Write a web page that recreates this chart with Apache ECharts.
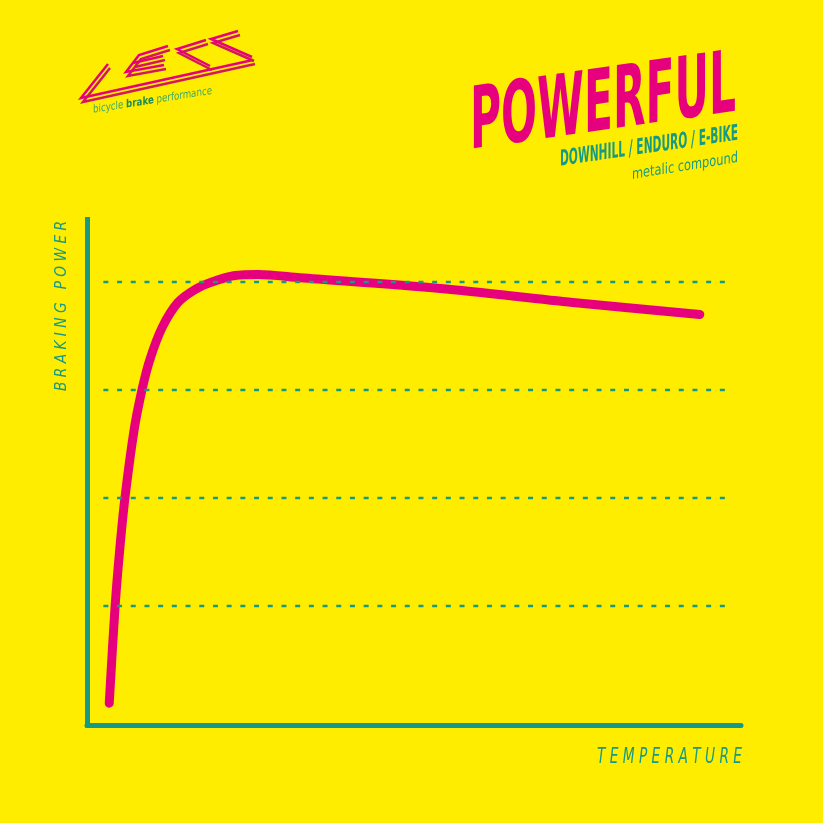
<!DOCTYPE html>
<html><head><meta charset="utf-8">
<script src="https://cdn.jsdelivr.net/npm/echarts@6/dist/echarts.min.js"></script>
<style>html,body{margin:0;padding:0;background:#ffed00;}#c{width:823px;height:823px;}</style>
</head><body><div id="c"></div>
<script>
// ---- data ----
const temperature  = [3.4, 4.3, 5.0, 5.8, 7.2, 8.4, 9.6, 11.5, 13.9, 16.5, 19.1, 22.6, 26.2, 32.6, 54.0, 74.3, 93.7];
const brakingPower = [0.10, 1.00, 1.52, 2.00, 2.63, 3.00, 3.28, 3.58, 3.81, 3.93, 4.00, 4.06, 4.07, 4.04, 3.94, 3.81, 3.70];
const gridLevels = [1, 2, 3, 4];
const xAxisName = 'TEMPERATURE';
const yAxisName = 'BRAKING POWER';
const titleText = 'POWERFUL';
const subtitleText = 'DOWNHILL / ENDURO / E-BIKE';
const compoundText = 'metalic compound';
const logoWords = ['bicycle', 'brake', 'performance'];

// ---- style ----
const YELLOW = '#ffed00', PINK = '#e6007e', PINK2 = '#d3175f', TEAL = '#169a86', GREEN = '#1d8a52';
const NARROW = '"Liberation Sans Narrow", "DejaVu Sans Condensed", "Liberation Sans", sans-serif';

const mctx = document.createElement('canvas').getContext('2d');
function measure(text, font) { mctx.font = font; return mctx.measureText(text).width; }
const spaced = s => s.split('').join(' ');

function slanted(text, font, left, yMid, width, slope, fill) {
  const w = measure(text, font);
  return {
    type: 'text', x: left, y: yMid, scaleX: width / w, skewY: -Math.atan(slope), silent: true,
    style: { text: text, x: 0, y: 0, font: font, fill: fill, align: 'left', verticalAlign: 'middle' }
  };
}

const chart = echarts.init(document.getElementById('c'));

const xFont = 'italic 21px ' + NARROW;
const xName = spaced(xAxisName);
const yFont = 'italic 16px ' + NARROW;
const yName = spaced(yAxisName);

const logoFont = '11px ' + NARROW;
const logoBold = 'bold 11px ' + NARROW;
const logoW = measure(logoWords[0] + ' ', logoFont) + measure(logoWords[1], logoBold) + measure(' ' + logoWords[2], logoFont);

const logoLines = [
  [[108, 64], [81, 98], [253, 60]],
  [[168, 46], [139, 55], [126, 72], [164, 65]],
  [[133, 63], [163, 56]],
  [[206, 40], [177, 49], [210, 66]],
  [[238, 31], [211, 39], [252, 57]]
];
const logoGraphics = [];
logoLines.forEach(pts => {
  logoGraphics.push({ type: 'polyline', silent: true, shape: { points: pts.map(p => [p[0] + 2, p[1] + 4]) }, style: { stroke: PINK2, lineWidth: 2.5, fill: null, lineJoin: 'miter' } });
  logoGraphics.push({ type: 'polyline', silent: true, shape: { points: pts }, style: { stroke: PINK, lineWidth: 2.5, fill: null, lineJoin: 'miter' } });
});

const option = {
  backgroundColor: YELLOW,
  animation: false,
  grid: { left: 87, right: 82, top: 219.5, bottom: 98, containLabel: false },
  xAxis: {
    type: 'value', min: 0, max: 100,
    axisLine: { show: true, onZero: false, lineStyle: { color: TEAL, width: 5 } },
    axisTick: { show: false }, axisLabel: { show: false }, splitLine: { show: false }
  },
  yAxis: {
    type: 'value', min: -0.102, max: 4.579,
    axisLine: { show: true, onZero: false, lineStyle: { color: TEAL, width: 5, cap: 'square' } },
    axisTick: { show: false }, axisLabel: { show: false }, splitLine: { show: false }
  },
  series: [
    {
      type: 'line', data: [], silent: true, z: 1, symbol: 'none',
      markLine: {
        silent: true, symbol: 'none', label: { show: false }, animation: false,
        lineStyle: { color: TEAL, width: 2.3, type: [5, 8.7] },
        data: gridLevels.map(v => [{ coord: [2.5, v] }, { coord: [97.6, v] }])
      }
    },
    {
      type: 'line', z: 3, symbol: 'none', smooth: 0.3,
      data: temperature.map((t, i) => [t, brakingPower[i]]),
      lineStyle: { color: PINK, width: 9, cap: 'round', join: 'round' }
    }
  ],
  graphic: [
    slanted(titleText, 'bold 86px ' + NARROW, 470, 126.5, 266, -0.144, PINK),
    slanted(subtitleText, 'bold 22px ' + NARROW, 560, 160, 178, -0.146, TEAL),
    slanted(compoundText, '15px ' + NARROW, 632, 175, 106, -0.16, TEAL),
    {
      type: 'text', x: 742, y: 757.5, silent: true,
      scaleX: 145 / measure(xName, xFont),
      style: { text: xName, x: 0, y: 0, font: xFont, fill: TEAL, align: 'right', verticalAlign: 'middle' }
    },
    {
      type: 'text', x: 61.5, y: 391, rotation: Math.PI / 2, silent: true,
      scaleX: 170 / measure(yName, yFont),
      style: { text: yName, x: 0, y: 0, font: yFont, fill: TEAL, align: 'left', verticalAlign: 'middle' }
    },
    {
      type: 'text', x: 93, y: 110, silent: true, skewY: Math.atan(0.16),
      scaleX: 119 / logoW,
      style: {
        text: '{a|' + logoWords[0] + ' }{b|' + logoWords[1] + '}{a| ' + logoWords[2] + '}',
        x: 0, y: 0, align: 'left', verticalAlign: 'middle',
        rich: {
          a: { font: logoFont, fill: '#3aa86e' },
          b: { font: logoBold, fill: GREEN }
        }
      }
    }
  ].concat(logoGraphics)
};
chart.setOption(option);
</script>
</body></html>
